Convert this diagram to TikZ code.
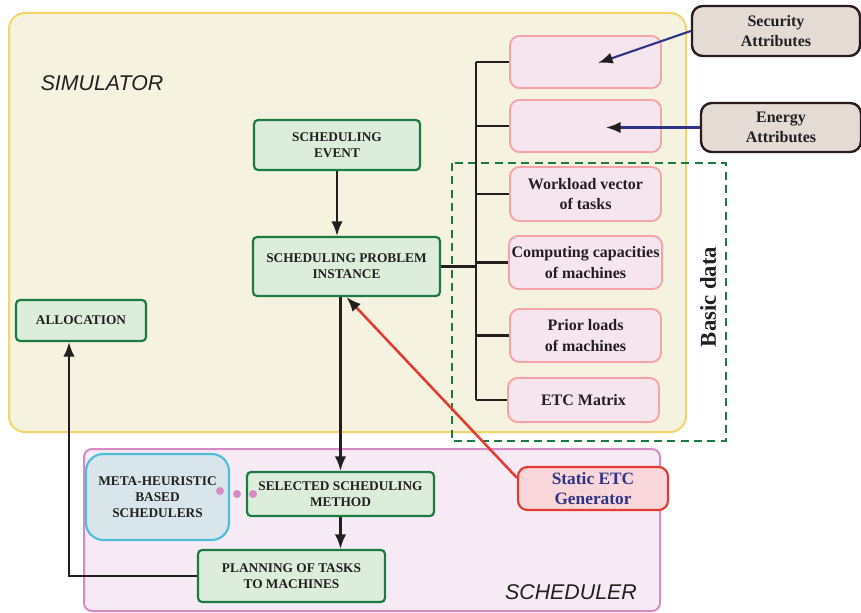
\documentclass[tikz,border=0pt]{standalone}
\usepackage{fontspec}
\setmainfont{Liberation Serif}
\setsansfont{Liberation Sans}
\usetikzlibrary{arrows.meta}
\definecolor{simfill}{HTML}{F5F2DF}
\definecolor{simdraw}{HTML}{F3D56E}
\definecolor{schfill}{HTML}{F6EBF4}
\definecolor{schdraw}{HTML}{D68BC5}
\definecolor{grfill}{HTML}{DDEDDB}
\definecolor{grdraw}{HTML}{1A7A3F}
\definecolor{pkfill}{HTML}{F6E5EE}
\definecolor{pkdraw}{HTML}{F4A3A8}
\definecolor{mhfill}{HTML}{D8E6EC}
\definecolor{mhdraw}{HTML}{4FBCD9}
\definecolor{atfill}{HTML}{E4DBD5}
\definecolor{atdraw}{HTML}{2B1B1B}
\definecolor{gnfill}{HTML}{F9D6D9}
\definecolor{gndraw}{HTML}{E53A2F}
\definecolor{navy}{HTML}{2E3587}
\definecolor{ink}{HTML}{231F20}
\begin{document}
\begin{tikzpicture}[x=0.75pt,y=-0.75pt,
  stage/.style={draw=grdraw,fill=grfill,line width=1.6pt,rounded corners=3pt,align=center,
    text=ink,font=\bfseries\fontsize{10}{12}\selectfont,inner sep=2pt},
  datum/.style={draw=pkdraw,fill=pkfill,line width=1.4pt,rounded corners=7pt,align=center,
    text=ink,font=\bfseries\fontsize{12}{15.5}\selectfont,minimum width=113.25pt,inner sep=2pt},
  attrib/.style={draw=atdraw,fill=atfill,line width=1.8pt,rounded corners=8pt,align=center,
    text=ink,font=\bfseries\fontsize{12}{15.5}\selectfont,inner sep=2pt},
  arr/.style={draw=ink,line width=1.6pt,-{Latex[length=11pt,width=8.5pt,color=ink]}},
  bus/.style={draw=ink,line width=1.6pt}]
\useasboundingbox (0,0) rectangle (861,613);
\draw[fill=simfill,draw=simdraw,line width=1.5pt,rounded corners=12pt] (9,13) rectangle (686,432);
\draw[fill=schfill,draw=schdraw,line width=1.5pt,rounded corners=6pt] (84,449) rectangle (660,611);
\draw[draw=grdraw,line width=1.5pt,dash pattern=on 6pt off 4pt] (452,163) rectangle (726,441);
\node[font=\sffamily\itshape\fontsize{16}{18}\selectfont,text=ink] (simlabel) at (102,83) {SIMULATOR};
\node[font=\sffamily\itshape\fontsize{16}{18}\selectfont,text=ink] (schlabel) at (571,592) {SCHEDULER};
\node[rotate=90,font=\bfseries\fontsize{17}{19}\selectfont,text=ink] (basic) at (708,297) {Basic data};

\node[stage,minimum width=124.5pt,minimum height=37.5pt] (sevent) at (337,145) {SCHEDULING\\EVENT};
\node[stage,minimum width=140.25pt,minimum height=44.25pt] (spi) at (346.5,266.5) {SCHEDULING PROBLEM\\INSTANCE};
\node[stage,minimum width=97.5pt,minimum height=30.75pt] (alloc) at (81,320.5) {ALLOCATION};
\node[stage,minimum width=140.25pt,minimum height=33pt] (ssm) at (340.5,494) {SELECTED SCHEDULING\\METHOD};
\node[stage,minimum width=140.25pt,minimum height=39pt] (plan) at (291.5,576) {PLANNING OF TASKS\\TO MACHINES};
\node[stage,draw=mhdraw,fill=mhfill,rounded corners=13pt,minimum width=107.25pt,minimum height=64.5pt] (meta) at (157.5,497) {META-HEURISTIC\\BASED\\SCHEDULERS};

\node[datum,minimum height=39pt] (box1) at (585.5,62) {};
\node[datum,minimum height=39pt] (box2) at (585.5,126) {};
\node[datum,minimum height=40.5pt] (work) at (585.5,194) {Workload vector\\of tasks};
\node[datum,minimum height=39.75pt] (comp) at (585.5,262.5) {Computing capacities\\of machines};
\node[datum,minimum height=39.75pt] (prior) at (585.5,335.5) {Prior loads\\of machines};
\node[datum,minimum height=33pt] (etc) at (583.5,400) {ETC Matrix};

\node[attrib,minimum width=126pt,minimum height=37.5pt] (secu) at (776,31) {Security\\Attributes};
\node[attrib,minimum width=120pt,minimum height=36.75pt] (energy) at (781,127.5) {Energy\\Attributes};
\node[draw=gndraw,fill=gnfill,line width=1.6pt,rounded corners=7pt,align=center,text=navy,
  font=\bfseries\fontsize{13}{14.5}\selectfont,minimum width=112.5pt,minimum height=32.25pt] (gen) at (593,488.5) {Static ETC\\Generator};

\coordinate (bustop) at (476,62);
\coordinate (busbot) at (476,400);
\coordinate (secin) at (598,63);
\coordinate (enin) at (606,127.5);

\draw[bus] (bustop) -- (busbot);
\foreach \b in {box1,box2,work,comp,prior,etc} {
  \draw[bus] (\b.west -| bustop) -- (\b.west);
}
\draw[bus] (spi.east) -- (spi.east -| bustop);

\draw[arr] (sevent.south) -- (sevent.south |- spi.north);
\draw[arr] (spi.south -| ssm.north) -- (ssm.north);
\draw[arr] (ssm.south) -- (ssm.south |- plan.north);
\draw[arr] (plan.west) -| ([xshift=-9pt]alloc.south);
\draw[arr,draw=gndraw,line width=1.9pt] ([yshift=8pt]gen.west) -- (spi.south);
\draw[arr,draw=navy] (secu.west) -- (secin);
\draw[arr,draw=navy] (energy.west) -- (enin);

\foreach \px/\py in {220/491,237/494,253/494} {
  \fill[schdraw] (\px,\py) circle (3pt);
}
\end{tikzpicture}
\end{document}
